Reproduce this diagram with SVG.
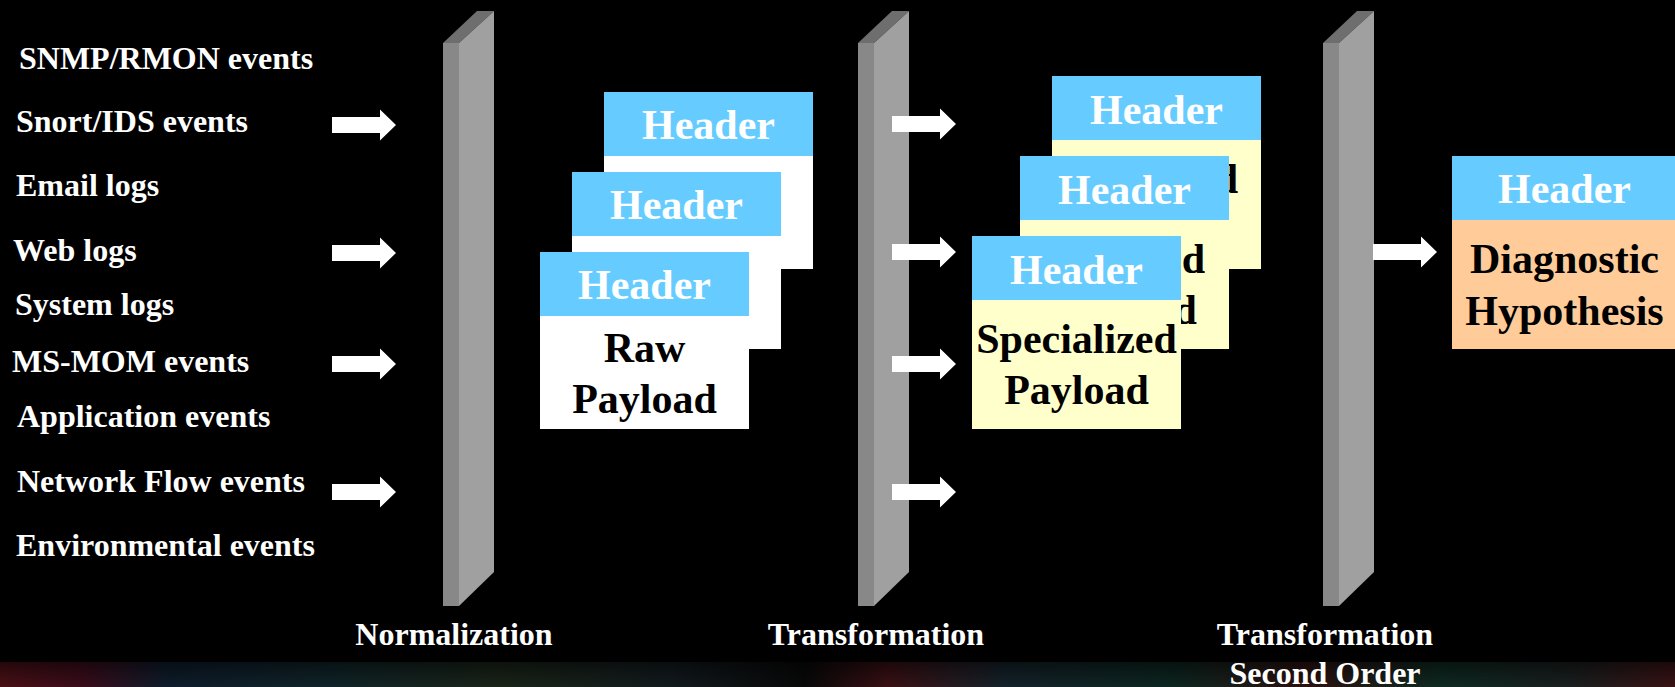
<svg xmlns="http://www.w3.org/2000/svg" width="1675" height="687" viewBox="0 0 1675 687">
<style>
text{font-family:"Liberation Serif","Times New Roman",serif;font-weight:bold}
.lbl{fill:#ffffff;font-size:32px}
.hdr{fill:#66ccff}
.hdrt{fill:#ffffff;font-size:42px;text-anchor:middle}
.bt{fill:#000000;font-size:42px;text-anchor:middle}
.raw{fill:#ffffff}
.spec{fill:#ffffcc}
.diag{fill:#ffcc99}
.arrow{fill:#ffffff}
</style>
<defs>
<linearGradient id="band" x1="0" y1="0" x2="1" y2="0">
<stop offset="0" stop-color="#4a1016"/>
<stop offset="0.05" stop-color="#3a0c1a"/>
<stop offset="0.1" stop-color="#0e1c2c"/>
<stop offset="0.2" stop-color="#102428"/>
<stop offset="0.3" stop-color="#1a2418"/>
<stop offset="0.4" stop-color="#121a1e"/>
<stop offset="0.48" stop-color="#080808"/>
<stop offset="0.53" stop-color="#3a1014"/>
<stop offset="0.6" stop-color="#14222a"/>
<stop offset="0.7" stop-color="#0c2620"/>
<stop offset="0.78" stop-color="#2c1210"/>
<stop offset="0.86" stop-color="#0e2a22"/>
<stop offset="0.94" stop-color="#1a1e1e"/>
<stop offset="1" stop-color="#3a1214"/>
</linearGradient>
<linearGradient id="fade" x1="0" y1="0" x2="0" y2="1">
<stop offset="0" stop-color="#000" stop-opacity="0.5"/>
<stop offset="1" stop-color="#000" stop-opacity="0"/>
</linearGradient>
<g id="pillar">
<polygon points="0,43 34,11 51,11 16,43" fill="#6e6e6e"/>
<rect x="0" y="43" width="16" height="563" fill="#888888"/>
<polygon points="16,43 51,11 51,572 16,606" fill="#a0a0a0"/>
</g>
<path id="arr" d="M0,-8 H48 V-15.5 L64,0 L48,15.5 V8 H0 Z"/>
</defs>
<rect x="0" y="0" width="1675" height="687" fill="#000000"/>
<rect x="0" y="662" width="1675" height="25" fill="url(#band)"/>
<rect x="0" y="662" width="1675" height="25" fill="url(#fade)"/>

<g id="sources">
<text class="lbl" x="19" y="69">SNMP/RMON events</text>
<text class="lbl" x="16" y="132">Snort/IDS events</text>
<text class="lbl" x="16" y="196">Email logs</text>
<text class="lbl" x="13" y="261">Web logs</text>
<text class="lbl" x="15" y="315">System logs</text>
<text class="lbl" x="12" y="372">MS-MOM events</text>
<text class="lbl" x="17" y="427">Application events</text>
<text class="lbl" x="17" y="492">Network Flow events</text>
<text class="lbl" x="16" y="556">Environmental events</text>
</g>

<g id="normalization">
<use href="#pillar" x="443" y="0"/>
<text class="lbl" x="454" y="645" text-anchor="middle">Normalization</text>
</g>
<g id="transformation">
<use href="#pillar" x="858" y="0"/>
<text class="lbl" x="876" y="645" text-anchor="middle">Transformation</text>
</g>
<g id="transformation2">
<use href="#pillar" x="1323" y="0"/>
<text class="lbl" x="1325" y="645" text-anchor="middle">Transformation</text>
<text class="lbl" x="1325" y="684" text-anchor="middle">Second Order</text>
</g>

<g id="connectors" class="arrow">
<use href="#arr" x="332" y="125"/>
<use href="#arr" x="332" y="253"/>
<use href="#arr" x="332" y="364"/>
<use href="#arr" x="332" y="492"/>
<use href="#arr" x="892" y="124"/>
<use href="#arr" x="892" y="252"/>
<use href="#arr" x="892" y="364"/>
<use href="#arr" x="892" y="492"/>
<use href="#arr" x="1373" y="252"/>
</g>

<g id="raw-packet-1">
<rect class="raw" x="604" y="92" width="209" height="177"/>
<rect class="hdr" x="604" y="92" width="209" height="64"/>
<text class="hdrt" x="708.5" y="139">Header</text>
</g>
<g id="raw-packet-2">
<rect class="raw" x="572" y="172" width="209" height="177"/>
<rect class="hdr" x="572" y="172" width="209" height="64"/>
<text class="hdrt" x="676.5" y="219">Header</text>
</g>
<g id="raw-packet-3">
<rect class="raw" x="540" y="252" width="209" height="177"/>
<rect class="hdr" x="540" y="252" width="209" height="64"/>
<text class="hdrt" x="644.5" y="299">Header</text>
<text class="bt" x="644.5" y="362">Raw</text>
<text class="bt" x="644.5" y="413">Payload</text>
</g>

<g id="spec-packet-1">
<rect class="spec" x="1052" y="76" width="209" height="193"/>
<rect class="hdr" x="1052" y="76" width="209" height="64"/>
<text class="hdrt" x="1156.5" y="124">Header</text>
<text class="bt" x="1238" y="193" style="text-anchor:end">Specialized</text>
<text class="bt" x="1156.5" y="244">Payload</text>
</g>
<g id="spec-packet-2">
<rect class="spec" x="1020" y="156" width="209" height="193"/>
<rect class="hdr" x="1020" y="156" width="209" height="64"/>
<text class="hdrt" x="1124.5" y="204">Header</text>
<text class="bt" x="1205" y="273" style="text-anchor:end">Specialized</text>
<text class="bt" x="1124.5" y="324">Payload</text>
</g>
<g id="spec-packet-3">
<rect class="spec" x="972" y="236" width="209" height="193"/>
<rect class="hdr" x="972" y="236" width="209" height="64"/>
<text class="hdrt" x="1076.5" y="284">Header</text>
<text class="bt" x="1076.5" y="353">Specialized</text>
<text class="bt" x="1076.5" y="404">Payload</text>
</g>

<g id="diagnostic">
<rect class="diag" x="1452" y="156" width="226" height="193"/>
<rect class="hdr" x="1452" y="156" width="226" height="64"/>
<text class="hdrt" x="1564.5" y="203">Header</text>
<text class="bt" x="1564.5" y="273">Diagnostic</text>
<text class="bt" x="1564.5" y="325">Hypothesis</text>
</g>
</svg>
